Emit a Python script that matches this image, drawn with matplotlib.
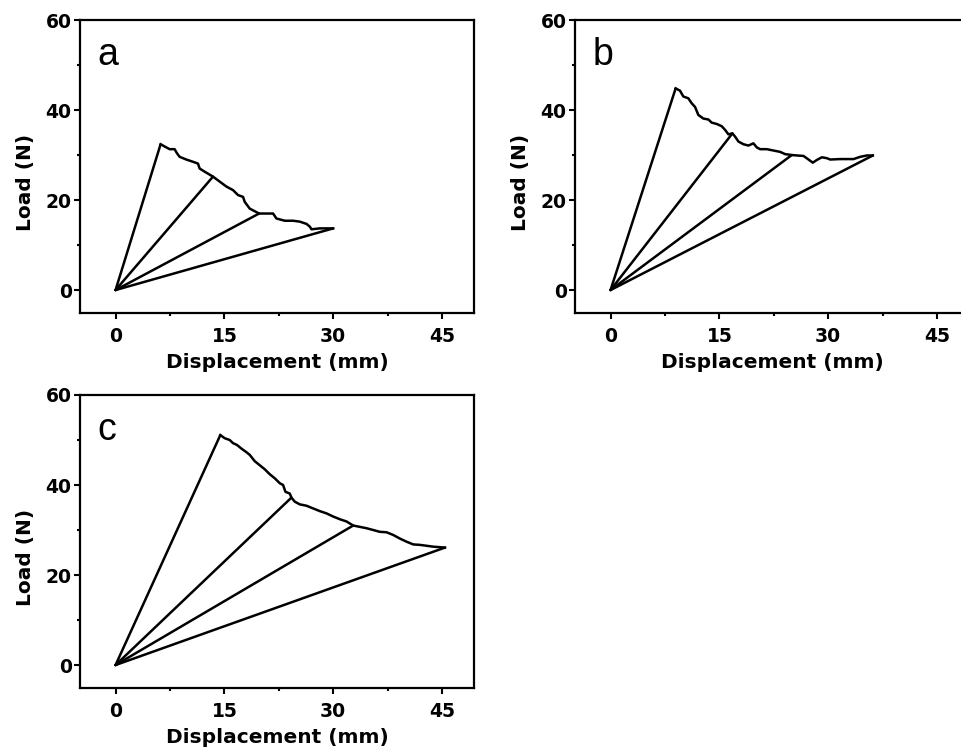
import matplotlib
matplotlib.use("Agg")
import matplotlib.pyplot as plt
from matplotlib.ticker import MultipleLocator

plt.rcParams['font.family'] = ['DejaVu Sans']

# Panel a: crack-propagation curve and unloading points
a_x = [6.21, 6.76, 7.45, 8.14, 8.46, 8.83, 9.75, 10.67, 11.36, 11.59, 12.28, 13.43,
       14.35, 15.27, 16.19, 16.88, 17.57, 17.80, 18.49, 19.78, 20.79, 21.71, 22.17,
       23.32, 24.47, 25.39, 26.31, 26.77, 27.00, 28.15, 29.99]
a_y = [32.4, 31.9, 31.3, 31.3, 30.4, 29.6, 29.0, 28.5, 28.1, 27.0, 26.3, 25.2,
       24.1, 23.0, 22.2, 21.1, 20.7, 19.6, 18.1, 17.0, 17.0, 17.0, 15.9,
       15.4, 15.4, 15.2, 14.7, 14.1, 13.5, 13.7, 13.7]
a_unload_x = [6.21, 13.43, 19.78, 29.99]
a_unload_y = [32.4, 25.2, 17.0, 13.7]

# Panel b
b_x = [8.97, 9.57, 10.03, 10.72, 11.18, 11.64, 12.10, 12.79, 13.48, 13.94, 14.63,
       15.32, 15.78, 16.24, 16.79, 17.16, 17.62, 18.31, 19.00, 19.69, 20.15, 20.61,
       21.53, 22.45, 23.37, 24.06, 24.98, 25.67, 26.59, 27.28, 27.87, 28.43, 29.12,
       29.81, 30.27, 31.65, 33.49, 34.41, 35.33, 36.15]
b_y = [44.8, 44.3, 43.0, 42.6, 41.5, 40.7, 38.9, 38.1, 37.9, 37.2, 36.9,
       36.4, 35.6, 34.6, 34.8, 34.1, 33.0, 32.4, 32.1, 32.6, 31.7, 31.3,
       31.3, 31.0, 30.7, 30.2, 30.0, 29.9, 29.8, 29.0, 28.3, 28.9, 29.5,
       29.3, 29.0, 29.1, 29.1, 29.6, 29.9, 29.9]
b_unload_x = [8.97, 16.79, 24.98, 36.15]
b_unload_y = [44.8, 34.8, 30.0, 29.9]

# Panel c
c_x = [14.44, 15.04, 15.73, 16.19, 16.74, 17.34, 18.03, 18.49, 19.18, 19.87, 20.56,
       21.25, 21.94, 22.63, 23.09, 23.41, 24.01, 24.24, 24.70, 25.39, 26.31, 27.23,
       28.15, 29.07, 29.99, 30.91, 31.83, 32.75, 33.67, 34.59, 35.51, 36.43, 37.35,
       38.27, 39.19, 40.11, 41.03, 41.95, 42.87, 43.79, 45.40]
c_y = [51.1, 50.4, 50.0, 49.3, 48.9, 48.1, 47.3, 46.7, 45.3, 44.4, 43.5,
       42.4, 41.5, 40.4, 40.0, 38.5, 38.1, 37.2, 36.3, 35.7, 35.4, 34.8,
       34.2, 33.7, 33.0, 32.4, 31.9, 31.0, 30.7, 30.4, 30.0, 29.6, 29.5,
       28.9, 28.1, 27.4, 26.8, 26.7, 26.5, 26.3, 26.1]
c_unload_x = [14.44, 24.24, 32.75, 45.40]
c_unload_y = [51.1, 37.2, 31.0, 26.1]

x_ticks = [0, 15, 30, 45]
y_ticks = [0, 20, 40, 60]
panel_labels = ['a', 'b', 'c']

W, H = 962, 752
fig = plt.figure(figsize=(W / 100, H / 100), dpi=100)

def px_axes(left, top, right, bottom):
    return fig.add_axes([left / W, 1 - bottom / H, (right - left) / W, (bottom - top) / H])

panels = [
    (px_axes(80, 20, 474, 313), a_x, a_y, a_unload_x, a_unload_y),
    (px_axes(575, 20, 969, 313), b_x, b_y, b_unload_x, b_unload_y),
    (px_axes(80, 395, 474, 688), c_x, c_y, c_unload_x, c_unload_y),
]

lw = 1.8
for (ax, cx, cy, ux, uy), lab in zip(panels, panel_labels):
    ax.plot(cx, cy, color='black', lw=lw, solid_joinstyle='round')
    for x, y in zip(ux, uy):
        ax.plot([0, x], [0, y], color='black', lw=lw, solid_capstyle='round')
    ax.set_xlim(-4.9, 49.4)
    ax.set_ylim(-5.1, 60)
    ax.set_xticks(x_ticks)
    ax.set_yticks(y_ticks)
    ax.xaxis.set_minor_locator(MultipleLocator(7.5))
    ax.yaxis.set_minor_locator(MultipleLocator(10))
    ax.tick_params(which='major', direction='out', width=1.5,
                   labelsize=13.5, top=False, right=False)
    ax.tick_params(axis='x', which='major', length=4, pad=6)
    ax.tick_params(axis='y', which='major', length=4, pad=2)
    ax.tick_params(which='minor', direction='out', length=2.5, width=1.5,
                   top=False, right=False)
    for lbl in ax.get_xticklabels() + ax.get_yticklabels():
        lbl.set_fontweight('bold')
    for s in ax.spines.values():
        s.set_linewidth(1.6)
    ax.set_xlabel('Displacement (mm)', fontsize=14.5, fontweight='bold', labelpad=5)
    ax.set_ylabel('Load (N)', fontsize=14.5, fontweight='bold')
    ax.yaxis.set_label_coords(-0.115, 0.445)
    ax.text(0.045, 0.845, lab, transform=ax.transAxes, fontsize=27,
            family='Liberation Sans', color='black')

fig.savefig('out.png', dpi=100)
